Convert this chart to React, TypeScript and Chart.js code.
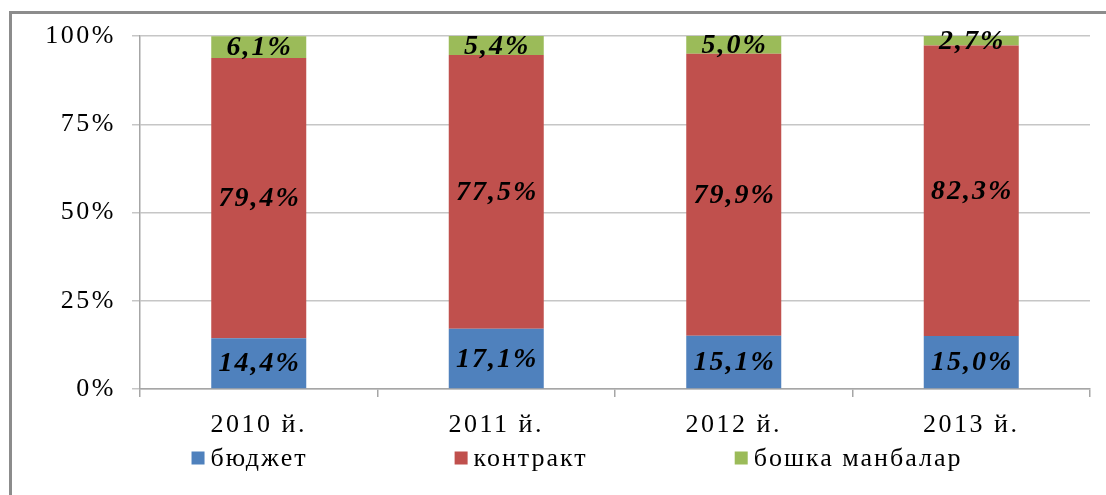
import React, { useEffect, useRef } from "react";
import { Chart, registerables } from "chart.js";

Chart.register(...registerables);

const categories = ["2010 й.", "2011 й.", "2012 й.", "2013 й."];
const budget = [14.4, 17.1, 15.1, 15.0];
const contract = [79.4, 77.5, 79.9, 82.3];
const other = [6.1, 5.4, 5.0, 2.7];
const seriesNames = ["бюджет", "контракт", "бошка манбалар"];
const yTicks = [0, 25, 50, 75, 100];

const FONT = "'Liberation Serif', 'Times New Roman', serif";
const COLORS = ["#4F81BD", "#C0504D", "#9BBB59"];

const spacingPlugin = {
  id: "letterSpacing",
  beforeUpdate(chart: any) {
    chart.ctx.letterSpacing = "2.5px";
  },
  beforeLayout(chart: any) {
    chart.ctx.letterSpacing = "2.5px";
  },
  beforeDraw(chart: any) {
    chart.ctx.letterSpacing = "2.5px";
  },
};

const dataLabelPlugin = {
  id: "dataLabels",
  afterDatasetsDraw(chart: any) {
    const ctx = chart.ctx;
    ctx.save();
    ctx.letterSpacing = "2px";
    ctx.font = `italic bold 28px ${FONT}`;
    ctx.fillStyle = "#000";
    ctx.textAlign = "center";
    ctx.textBaseline = "middle";
    chart.data.datasets.forEach((ds: any, i: number) => {
      const meta = chart.getDatasetMeta(i);
      meta.data.forEach((bar: any, j: number) => {
        const v = ds.data[j];
        const txt = v.toFixed(1).replace(".", ",") + "%";
        const y = (bar.y + bar.base) / 2;
        ctx.fillText(txt, bar.x + 1, y + 1);
      });
    });
    ctx.restore();
  },
};

const legendPlugin = {
  id: "customLegend",
  afterDraw(chart: any) {
    const ctx = chart.ctx;
    ctx.save();
    ctx.letterSpacing = "2px";
    ctx.font = `26px ${FONT}`;
    ctx.textBaseline = "middle";
    ctx.textAlign = "left";
    const box = 13;
    const boxGap = 6;
    const itemGap = 147;
    const items = chart.data.datasets.map((ds: any) => ({
      text: ds.label,
      color: ds.backgroundColor,
      w: box + boxGap + ctx.measureText(ds.label).width,
    }));
    const total = items.reduce((s: number, it: any) => s + it.w, 0) + itemGap * (items.length - 1);
    let x = chart.width / 2 + 24 - total / 2;
    const y = chart.chartArea.bottom + 69;
    items.forEach((it: any) => {
      ctx.fillStyle = it.color;
      ctx.fillRect(x, y - box / 2, box, box);
      ctx.fillStyle = "#000";
      ctx.fillText(it.text, x + box + boxGap, y + 1);
      x += it.w + itemGap;
    });
    ctx.restore();
  },
};

export default function App() {
  const ref = useRef<HTMLCanvasElement>(null);
  useEffect(() => {
    if (!ref.current) return;
    const chart = new Chart(ref.current, {
      type: "bar",
      data: {
        labels: categories,
        datasets: [
          { label: seriesNames[0], data: budget, backgroundColor: COLORS[0] },
          { label: seriesNames[1], data: contract, backgroundColor: COLORS[1] },
          { label: seriesNames[2], data: other, backgroundColor: COLORS[2] },
        ],
      },
      options: {
        responsive: false,
        animation: false,
        layout: { padding: { left: 0, right: 16, top: 36, bottom: 56 } },
        datasets: { bar: { barPercentage: 0.4, categoryPercentage: 1.0 } },
        plugins: {
          legend: { display: false },
          tooltip: { enabled: false },
        },
        scales: {
          x: {
            stacked: true,
            afterFit(scale: any) {
              scale.height = 50;
            },
            grid: {
              display: true,
              drawOnChartArea: false,
              drawTicks: true,
              tickLength: 8,
              color: "#a6a6a6",
              lineWidth: 1.5,
              offset: true,
            },
            border: { display: true, color: "#a6a6a6", width: 1.5 },
            ticks: {
              color: "#000",
              font: { family: FONT, size: 26 },
              padding: 13,
              maxRotation: 0,
            },
          },
          y: {
            stacked: true,
            min: 0,
            max: 100,
            afterFit(scale: any) {
              scale.width = 140;
            },
            afterBuildTicks(scale: any) {
              scale.ticks = yTicks.map((v) => ({ value: v }));
            },
            grid: {
              color: "#c6c6c6",
              lineWidth: 1.5,
              drawTicks: true,
              tickLength: 8,
            },
            border: { display: true, color: "#a6a6a6", width: 1.5 },
            ticks: {
              color: "#000",
              font: { family: FONT, size: 26 },
              padding: 16,
              callback: (v: any) => v + "%",
            },
          },
        },
      },
      plugins: [spacingPlugin, dataLabelPlugin, legendPlugin],
    });
    return () => chart.destroy();
  }, []);

  return (
    <div
      style={{
        position: "fixed",
        left: 0,
        top: 0,
        width: 1106,
        height: 495,
        background: "#fff",
        overflow: "hidden",
      }}
    >
      <div
        style={{
          position: "absolute",
          left: 9,
          top: 11,
          width: 1120,
          height: 500,
          borderLeft: "3px solid #8c8c8c",
          borderTop: "3px solid #8c8c8c",
        }}
      />
      <canvas
        ref={ref}
        width={1106}
        height={495}
        style={{ position: "absolute", left: 0, top: 0, width: 1106, height: 495 }}
      />
    </div>
  );
}
